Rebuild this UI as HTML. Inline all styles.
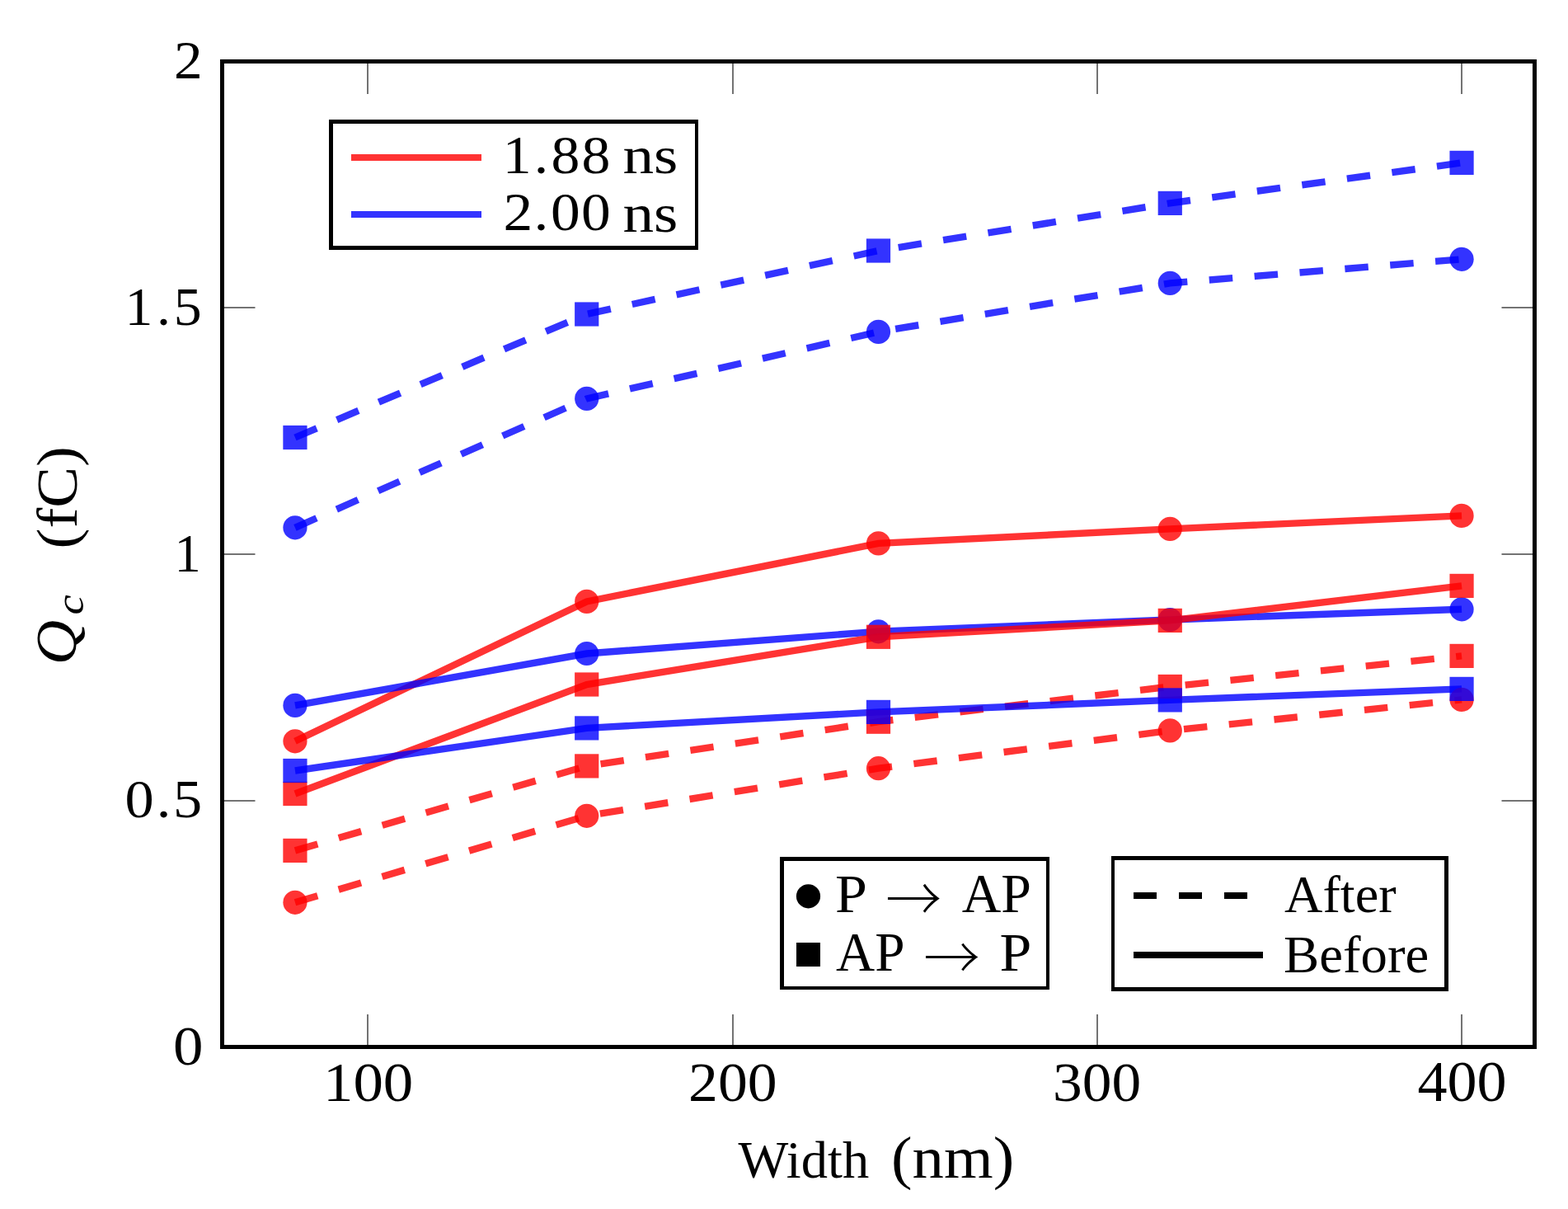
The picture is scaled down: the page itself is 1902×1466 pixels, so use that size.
<!DOCTYPE html>
<html><head><meta charset="utf-8"><title>Qc vs Width</title>
<style>html,body{margin:0;padding:0;background:#fff;overflow:hidden;} svg{display:block;}</style></head>
<body><svg width="1902" height="1466" viewBox="0 0 1902 1466">
<rect width="1902" height="1466" fill="#fff"/>
<rect x="445" y="77" width="2" height="37" fill="#737373"/>
<rect x="445" y="1230" width="2" height="37" fill="#737373"/>
<rect x="888" y="77" width="2" height="37" fill="#737373"/>
<rect x="888" y="1230" width="2" height="37" fill="#737373"/>
<rect x="1330" y="77" width="2" height="37" fill="#737373"/>
<rect x="1330" y="1230" width="2" height="37" fill="#737373"/>
<rect x="1772" y="77" width="2" height="37" fill="#737373"/>
<rect x="1772" y="1230" width="2" height="37" fill="#737373"/>
<rect x="272" y="372" width="37.5" height="2" fill="#737373"/>
<rect x="1821.5" y="372" width="37.5" height="2" fill="#737373"/>
<rect x="272" y="671" width="37.5" height="2" fill="#737373"/>
<rect x="1821.5" y="671" width="37.5" height="2" fill="#737373"/>
<rect x="272" y="970" width="37.5" height="2" fill="#737373"/>
<rect x="1821.5" y="970" width="37.5" height="2" fill="#737373"/>
<polyline points="357.94,1094.30 711.72,989.30 1065.50,931.70 1419.27,885.90 1773.05,848.40" fill="none" stroke="#ff0000" stroke-opacity="0.8" stroke-width="8.4" stroke-dasharray="28.5 26.55"/>
<polyline points="357.94,639.80 711.72,483.40 1065.50,402.40 1419.27,343.40 1773.05,314.30" fill="none" stroke="#0000ff" stroke-opacity="0.8" stroke-width="8.4" stroke-dasharray="28.5 26.55"/>
<polyline points="357.94,1031.40 711.72,928.90 1065.50,875.20 1419.27,832.50 1773.05,795.40" fill="none" stroke="#ff0000" stroke-opacity="0.8" stroke-width="8.4" stroke-dasharray="28.5 26.55"/>
<polyline points="357.94,530.50 711.72,381.00 1065.50,304.00 1419.27,246.40 1773.05,197.40" fill="none" stroke="#0000ff" stroke-opacity="0.8" stroke-width="8.4" stroke-dasharray="28.5 26.55"/>
<polyline points="357.94,898.80 711.72,729.40 1065.50,658.90 1419.27,641.40 1773.05,625.40" fill="none" stroke="#ff0000" stroke-opacity="0.8" stroke-width="8.4"/>
<polyline points="357.94,855.40 711.72,792.50 1065.50,765.80 1419.27,751.50 1773.05,738.80" fill="none" stroke="#0000ff" stroke-opacity="0.8" stroke-width="8.4"/>
<polyline points="357.94,962.50 711.72,830.00 1065.50,772.30 1419.27,752.40 1773.05,710.40" fill="none" stroke="#ff0000" stroke-opacity="0.8" stroke-width="8.4"/>
<polyline points="357.94,934.50 711.72,882.90 1065.50,863.40 1419.27,848.90 1773.05,835.40" fill="none" stroke="#0000ff" stroke-opacity="0.8" stroke-width="8.4"/>
<circle cx="357.94" cy="1094.30" r="14.6" fill="#ff0000" fill-opacity="0.8"/>
<circle cx="711.72" cy="989.30" r="14.6" fill="#ff0000" fill-opacity="0.8"/>
<circle cx="1065.50" cy="931.70" r="14.6" fill="#ff0000" fill-opacity="0.8"/>
<circle cx="1419.27" cy="885.90" r="14.6" fill="#ff0000" fill-opacity="0.8"/>
<circle cx="1773.05" cy="848.40" r="14.6" fill="#ff0000" fill-opacity="0.8"/>
<circle cx="357.94" cy="639.80" r="14.6" fill="#0000ff" fill-opacity="0.8"/>
<circle cx="711.72" cy="483.40" r="14.6" fill="#0000ff" fill-opacity="0.8"/>
<circle cx="1065.50" cy="402.40" r="14.6" fill="#0000ff" fill-opacity="0.8"/>
<circle cx="1419.27" cy="343.40" r="14.6" fill="#0000ff" fill-opacity="0.8"/>
<circle cx="1773.05" cy="314.30" r="14.6" fill="#0000ff" fill-opacity="0.8"/>
<rect x="343.34" y="1016.80" width="29.2" height="29.2" fill="#ff0000" fill-opacity="0.8"/>
<rect x="697.12" y="914.30" width="29.2" height="29.2" fill="#ff0000" fill-opacity="0.8"/>
<rect x="1050.90" y="860.60" width="29.2" height="29.2" fill="#ff0000" fill-opacity="0.8"/>
<rect x="1404.67" y="817.90" width="29.2" height="29.2" fill="#ff0000" fill-opacity="0.8"/>
<rect x="1758.45" y="780.80" width="29.2" height="29.2" fill="#ff0000" fill-opacity="0.8"/>
<rect x="343.34" y="515.90" width="29.2" height="29.2" fill="#0000ff" fill-opacity="0.8"/>
<rect x="697.12" y="366.40" width="29.2" height="29.2" fill="#0000ff" fill-opacity="0.8"/>
<rect x="1050.90" y="289.40" width="29.2" height="29.2" fill="#0000ff" fill-opacity="0.8"/>
<rect x="1404.67" y="231.80" width="29.2" height="29.2" fill="#0000ff" fill-opacity="0.8"/>
<rect x="1758.45" y="182.80" width="29.2" height="29.2" fill="#0000ff" fill-opacity="0.8"/>
<circle cx="357.94" cy="898.80" r="14.6" fill="#ff0000" fill-opacity="0.8"/>
<circle cx="711.72" cy="729.40" r="14.6" fill="#ff0000" fill-opacity="0.8"/>
<circle cx="1065.50" cy="658.90" r="14.6" fill="#ff0000" fill-opacity="0.8"/>
<circle cx="1419.27" cy="641.40" r="14.6" fill="#ff0000" fill-opacity="0.8"/>
<circle cx="1773.05" cy="625.40" r="14.6" fill="#ff0000" fill-opacity="0.8"/>
<circle cx="357.94" cy="855.40" r="14.6" fill="#0000ff" fill-opacity="0.8"/>
<circle cx="711.72" cy="792.50" r="14.6" fill="#0000ff" fill-opacity="0.8"/>
<circle cx="1065.50" cy="765.80" r="14.6" fill="#0000ff" fill-opacity="0.8"/>
<circle cx="1419.27" cy="751.50" r="14.6" fill="#0000ff" fill-opacity="0.8"/>
<circle cx="1773.05" cy="738.80" r="14.6" fill="#0000ff" fill-opacity="0.8"/>
<rect x="343.34" y="947.90" width="29.2" height="29.2" fill="#ff0000" fill-opacity="0.8"/>
<rect x="697.12" y="815.40" width="29.2" height="29.2" fill="#ff0000" fill-opacity="0.8"/>
<rect x="1050.90" y="757.70" width="29.2" height="29.2" fill="#ff0000" fill-opacity="0.8"/>
<rect x="1404.67" y="737.80" width="29.2" height="29.2" fill="#ff0000" fill-opacity="0.8"/>
<rect x="1758.45" y="695.80" width="29.2" height="29.2" fill="#ff0000" fill-opacity="0.8"/>
<rect x="343.34" y="919.90" width="29.2" height="29.2" fill="#0000ff" fill-opacity="0.8"/>
<rect x="697.12" y="868.30" width="29.2" height="29.2" fill="#0000ff" fill-opacity="0.8"/>
<rect x="1050.90" y="848.80" width="29.2" height="29.2" fill="#0000ff" fill-opacity="0.8"/>
<rect x="1404.67" y="834.30" width="29.2" height="29.2" fill="#0000ff" fill-opacity="0.8"/>
<rect x="1758.45" y="820.80" width="29.2" height="29.2" fill="#0000ff" fill-opacity="0.8"/>
<path d="M267 72H1864V1272H267Z M272 77V1267H1859V77Z" fill="#000" fill-rule="evenodd"/>
<rect x="404" y="150" width="439" height="148" fill="#fff"/><path d="M399 145H847V303H399Z M404 150V298H843V150Z" fill="#000" fill-rule="evenodd"/>
<rect x="426" y="187" width="158" height="8" fill="#ff0000" fill-opacity="0.8"/>
<rect x="426" y="256" width="158" height="8" fill="#0000ff" fill-opacity="0.8"/>
<rect x="951" y="1044" width="318" height="152" fill="#fff"/><path d="M946 1039H1273V1200H946Z M951 1044V1196H1269V1044Z" fill="#000" fill-rule="evenodd"/>
<circle cx="980.5" cy="1086.8" r="14.6" fill="#000"/>
<rect x="966" y="1143" width="29" height="29" fill="#000"/>
<rect x="1352" y="1043" width="400" height="154" fill="#fff"/><path d="M1348 1038H1757V1202H1348Z M1352 1043V1197H1752V1043Z" fill="#000" fill-rule="evenodd"/>
<rect x="1375" y="1082" width="28" height="8" fill="#000"/>
<rect x="1430" y="1082" width="28" height="8" fill="#000"/>
<rect x="1485" y="1082" width="28" height="8" fill="#000"/>
<rect x="1375" y="1154" width="157" height="8" fill="#000"/>
<g font-family="'Liberation Serif', serif" fill="#000">
<g transform="matrix(1.07541 0 0 1.00957 -15.581 -1.507)"><text x="243" y="95.8" font-size="64.5" text-anchor="end">2</text></g>
<text transform="matrix(1.05127 0 0 1.01638 0 0)" x="144.14 180.81 200.37" y="387.65" font-size="64.5">1.5</text>
<g transform="matrix(1.00000 0 0 1.01905 0.800 -13.608)"><text x="243" y="693.2" font-size="64.5" text-anchor="end">1</text></g>
<text transform="matrix(1.09037 0 0 1.01977 0 0)" x="138.89 174.04 192.59" y="972.07" font-size="64.5">0.5</text>
<g transform="matrix(1.13065 0 0 1.04230 -28.238 -54.810)"><text x="243" y="1290.8" font-size="64.5" text-anchor="end">0</text></g>
<g transform="matrix(1.13053 0 0 1.04230 -60.398 -55.830)"><text x="448.5" y="1334" font-size="64.5" text-anchor="middle">100</text></g>
<g transform="matrix(1.11217 0 0 1.04230 -99.883 -55.830)"><text x="889" y="1334" font-size="64.5" text-anchor="middle">200</text></g>
<g transform="matrix(1.10782 0 0 1.04230 -143.868 -55.830)"><text x="1331" y="1334" font-size="64.5" text-anchor="middle">300</text></g>
<g transform="matrix(1.11828 0 0 1.06554 -209.151 -86.840)"><text x="1773" y="1334" font-size="64.5" text-anchor="middle">400</text></g>
<g transform="matrix(0.95515 0 0 0.95455 39.781 64.766)"><text x="896" y="1428" font-size="67.5">Width</text></g>
<g transform="matrix(1.13760 0 0 1.06251 -152.172 -89.536)"><text x="1084" y="1428" font-size="67.5">(nm)</text></g>
<g transform="matrix(1.05693 0 0 1.14286 -3.948 -110.200)"><g transform="translate(91,802) rotate(-90)"><text x="0" y="0" font-size="66" font-style="italic">Q</text></g></g>
<g transform="matrix(1.05716 0 0 1.19043 -4.716 -140.071)"><g transform="translate(100,744) rotate(-90)"><text x="0" y="0" font-size="46" font-style="italic">c</text></g></g>
<g transform="matrix(1.06564 0 0 1.13078 -4.290 -83.182)"><g transform="translate(91,662) rotate(-90)"><text x="0" y="0" font-size="66">(fC)</text></g></g>
<text transform="matrix(1.08051 0 0 1.01427 0 0)" x="564.43 599.44 618.73 653.02" y="207.30" font-size="64.5">1.88</text>
<g transform="matrix(1.16667 0 0 0.99372 -127.733 1.325)"><text x="757" y="210.5" font-size="64.5">ns</text></g>
<text transform="matrix(1.10827 0 0 1.01271 0 0)" x="550.81 584.22 602.70 636.08" y="275.77" font-size="64.5">2.00</text>
<g transform="matrix(1.16667 0 0 1.00027 -127.733 0.941)"><text x="757" y="279.5" font-size="64.5">ns</text></g>
<g transform="matrix(1.05938 0 0 0.99350 -62.287 6.990)"><text x="1015" y="1106" font-size="66">P</text></g>
<g transform="matrix(0.90437 0 0 0.94858 100.282 67.105)"><text x="1077" y="1106" font-size="75" font-family="'Noto Serif CJK SC', 'Liberation Serif', serif">→</text></g>
<g transform="matrix(0.99756 0 0 1.03258 1.657 -36.233)"><text x="1168" y="1106" font-size="66">AP</text></g>
<g transform="matrix(0.98889 0 0 1.03258 10.389 -38.346)"><text x="1015" y="1177" font-size="66">AP</text></g>
<g transform="matrix(0.91304 0 0 0.92625 94.913 96.990)"><text x="1123" y="1177" font-size="75" font-family="'Noto Serif CJK SC', 'Liberation Serif', serif">→</text></g>
<g transform="matrix(1.05626 0 0 0.99535 -70.867 5.468)"><text x="1215" y="1177" font-size="66">P</text></g>
<g transform="matrix(0.95857 0 0 0.94167 63.628 65.253)"><text x="1559" y="1105" font-size="67">After</text></g>
<g transform="matrix(0.96629 0 0 0.94585 50.618 64.586)"><text x="1559" y="1178" font-size="67">Before</text></g>
</g>
</svg></body></html>
